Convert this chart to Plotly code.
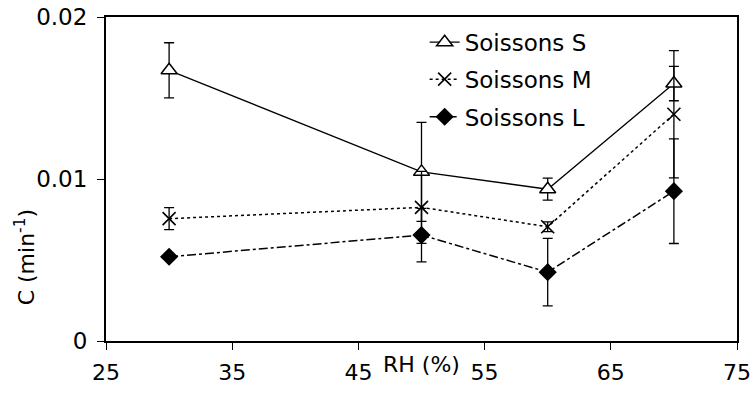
import plotly.graph_objects as go

rh = [30, 50, 60, 70]

s_vals = [0.01671, 0.01044, 0.00937, 0.01589]
s_err = [0.00170, 0.00305, 0.00068, 0.00106]

m_vals = [0.00755, 0.00825, 0.00705, 0.01400]
m_err = [0.00068, 0.00222, 0.00030, 0.00393]

l_vals = [0.00520, 0.00654, 0.00425, 0.00925]
l_err = [0.00020, 0.00165, 0.00208, 0.00323]

x_ticks = [25, 35, 45, 55, 65, 75]
y_ticks = [0, 0.01, 0.02]
y_tick_text = ["0", "0.01", "0.02"]

FONT = "DejaVu Sans"

def err(arr):
    return dict(type="data", array=arr, visible=True, color="black",
                thickness=1.3, width=5)

fig = go.Figure()
fig.add_trace(go.Scatter(
    x=rh, y=s_vals, name="Soissons S", mode="lines+markers",
    line=dict(color="black", width=1.3, dash="solid"),
    marker=dict(symbol="triangle-up", size=14, color="white",
                line=dict(color="black", width=1.5)),
    error_y=err(s_err), legend="legend"))
fig.add_trace(go.Scatter(
    x=rh, y=m_vals, name="Soissons M", mode="lines+markers",
    line=dict(color="black", width=1.5, dash="dot"),
    marker=dict(symbol="x-thin-open", size=13, color="black",
                line=dict(color="black", width=1.6)),
    error_y=err(m_err), legend="legend2"))
fig.add_trace(go.Scatter(
    x=rh, y=l_vals, name="Soissons L", mode="lines+markers",
    line=dict(color="black", width=1.5, dash="dashdot"),
    marker=dict(symbol="diamond", size=14, color="black",
                line=dict(color="black", width=0)),
    error_y=err(l_err), legend="legend3"))

leg_common = dict(xanchor="left", yanchor="middle", bgcolor="rgba(0,0,0,0)",
                  font=dict(family=FONT, size=23, color="black"),
                  borderwidth=0)
lx = 0.505
fig.update_layout(
    width=751, height=394,
    margin=dict(l=106, r=14, t=17, b=53),
    paper_bgcolor="white", plot_bgcolor="white",
    font=dict(family=FONT, size=22, color="black"),
    showlegend=True,
    legend=dict(x=lx, y=0.922, **leg_common),
    legend2=dict(x=lx, y=0.808, **leg_common),
    legend3=dict(x=lx, y=0.692, **leg_common),
    xaxis=dict(range=[25, 75], tickvals=x_ticks, ticks="outside", ticklen=7,
               tickwidth=1.3, tickcolor="black", showline=True, linecolor="black",
               linewidth=2, mirror=True, showgrid=False, zeroline=False,
               ticklabelstandoff=4, automargin=False, ticklabeloverflow="allow",
               tickfont=dict(family=FONT, size=22, color="black")),
    yaxis=dict(range=[0, 0.02], tickvals=y_ticks, ticktext=y_tick_text,
               ticks="outside", ticklen=7, tickwidth=1.3, tickcolor="black",
               showline=True, linecolor="black", linewidth=2, mirror=True,
               showgrid=False, zeroline=False, ticklabelstandoff=5,
               automargin=False, ticklabeloverflow="allow",
               tickfont=dict(family=FONT, size=23, color="black")),
    annotations=[
        dict(text="C (min<sup>-1</sup>)", xref="paper", yref="paper",
             x=-0.128, y=0.259, textangle=-90, showarrow=False,
             xanchor="center", yanchor="middle",
             font=dict(family=FONT, size=22, color="black")),
        dict(text="RH (%)", xref="paper", yref="paper", x=0.5, y=-0.071,
             showarrow=False, xanchor="center", yanchor="middle",
             font=dict(family=FONT, size=22, color="black")),
    ],
)

fig.write_html("out.html")
